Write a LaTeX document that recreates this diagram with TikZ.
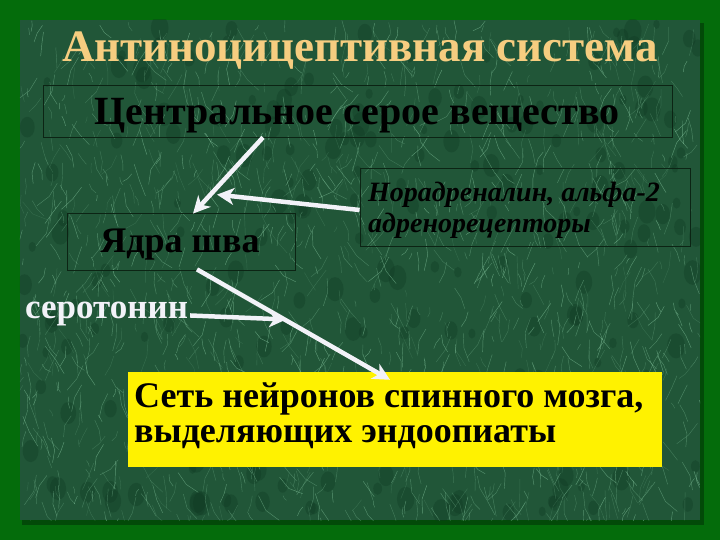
\documentclass[tikz,border=0pt]{standalone}
\usepackage{fontspec}
\setmainfont{Liberation Serif}
\usetikzlibrary{arrows.meta,calc}
\definecolor{frame}{HTML}{046C0B}
\definecolor{frameshadow}{HTML}{024A08}
\definecolor{marblebase}{HTML}{215638}
\definecolor{vein}{HTML}{8ED0A8}
\definecolor{darkvein}{HTML}{0D3520}
\definecolor{titlegold}{HTML}{F6CD80}
\definecolor{arrowwhite}{HTML}{F2F2F8}
\definecolor{boxline}{HTML}{0C2414}
\tikzset{
  boxframe/.style={draw=boxline, line width=0.8pt, inner sep=0pt},
  flowarrow/.style={draw=arrowwhite, line width=4.5pt, -{Stealth[length=17pt,width=17pt,inset=5pt]}},
  veinline/.style={draw=vein, line width=0.45pt},
  labeltext/.style={inner sep=0pt, font=\bfseries},
}
\begin{document}
\begin{tikzpicture}[x=1pt,y=-1pt]
\useasboundingbox (0,0) rectangle (720,540);
% frame and marble
\node[fill=frame, minimum width=720pt, minimum height=540pt, inner sep=0pt] (frameback) at (360,270) {};
\node[fill=frameshadow, minimum width=682pt, minimum height=502pt, inner sep=0pt] (marbleshadow) at (363,274) {};
\node[fill=marblebase, minimum width=680pt, minimum height=500pt, inner sep=0pt] (marble) at (360,270) {};
\begin{scope}
  \clip (marble.south west) rectangle (marble.north east);
  \pgfmathsetseed{12}
  \foreach \i in {1,...,220}{
    \pgfmathsetmacro\xa{20+680*rnd}
    \pgfmathsetmacro\ya{20+500*rnd}
    \pgfmathsetmacro\ra{3+6*rnd}
    \fill[darkvein, opacity=0.3] (\xa,\ya) ellipse ({\ra} and {1.4*\ra});
  }
  \foreach \i in {1,...,1500}{
    \pgfmathsetmacro\xa{20+680*rnd}
    \pgfmathsetmacro\ya{20+500*rnd}
    \pgfmathsetmacro\an{50+80*rnd}
    \pgfmathsetmacro\le{3+14*rnd}
    \pgfmathsetmacro\op{0.15+0.4*rnd}
    \pgfmathsetmacro\bn{\an+60*rnd-30}
    \draw[veinline, opacity=\op] (\xa,\ya) -- ++(\an:\le) -- ++(\bn:\le);
  }
\end{scope}
% title
\node[labeltext, anchor=base, text=titlegold, font=\bfseries\fontsize{45}{50}\selectfont] (title) at (360,62) {Антиноцицептивная система};
% boxes
\node[boxframe, minimum width=629pt, minimum height=52pt] (pagbox) at (357.5,111) {};
\node[labeltext, anchor=base, font=\bfseries\fontsize{40}{44}\selectfont] (pag) at (357,125) {Центральное серое вещество};
\node[boxframe, minimum width=228pt, minimum height=57pt] (yadrabox) at (181,241.5) {};
\node[labeltext, anchor=base, font=\bfseries\fontsize{36}{40}\selectfont] (yadra) at (180,252) {Ядра шва};
\node[boxframe, minimum width=330pt, minimum height=78pt] (norbox) at (525,207) {};
\node[labeltext, anchor=north west, align=left, font=\bfseries\itshape\fontsize{28}{31}\selectfont] (nor) at (368,182) {Норадреналин, альфа-2\\адренорецепторы};
\node[labeltext, anchor=base west, text=arrowwhite, font=\bfseries\fontsize{35}{40}\selectfont] (sero) at (25,318) {серотонин};
\node[fill=yellow, minimum width=534pt, minimum height=95pt, inner sep=0pt] (spinalbox) at (395,419.5) {};
\node[labeltext, anchor=north west, align=left, font=\bfseries\fontsize{36}{35}\selectfont] (spinal) at (134,383) {Сеть нейронов спинного мозга,\\выделяющих эндоопиаты};
% arrows
\draw[flowarrow] ([xshift=-94.5pt]pagbox.south) -- ([xshift=12pt,yshift=-1pt]yadrabox.north);
\draw[flowarrow] ([yshift=-3pt]norbox.west) -- ([xshift=36pt,yshift=18pt]yadrabox.north);
\draw[flowarrow] ([xshift=16pt,yshift=1pt]yadrabox.south) -- ([xshift=-5pt,yshift=-8pt]spinalbox.north);
\draw[flowarrow] ([xshift=2pt,yshift=-2pt]sero.east) -- ([xshift=98pt,yshift=-6pt]sero.east);
\end{tikzpicture}
\end{document}
